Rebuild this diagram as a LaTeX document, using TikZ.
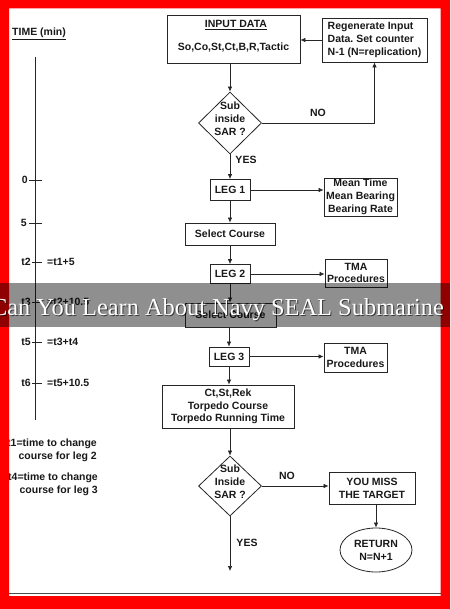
\documentclass[tikz,border=0pt]{standalone}
\usepackage{fontspec}
\setmainfont{Liberation Sans}
\newfontfamily\bannerfont{Liberation Serif}
\usetikzlibrary{shapes.geometric,arrows.meta}
\frenchspacing
\tikzset{
  txt/.style={font=\bfseries\fontsize{10.5}{12.8}\selectfont, inner sep=0pt, text=black!90},
  box/.style={txt, draw=black!85, line width=0.8pt, align=center},
  dia/.style={diamond, draw=black!85, line width=0.8pt, inner sep=0pt},
  arr/.style={draw=black!85, line width=0.7pt, -{Latex[length=5pt,width=4.5pt]}},
  plain/.style={draw=black!85, line width=0.7pt},
}
\begin{document}
\begin{tikzpicture}[x=1pt,y=-1pt]
\useasboundingbox (0,0) rectangle (450,609);
\fill[white] (0,0) rectangle (450,609);

% ---- time axis ----
\node[txt, anchor=west] (timelbl) at (12,34) {\underline{TIME (min)}};
\coordinate (axtop) at (35,57);
\coordinate (axbot) at (35,420);
\draw[plain] (axtop) -- (axbot);
\draw[plain] (29,180) -- (42,180);
\draw[plain] (29,223) -- (42,223);
\draw[plain] (32,262) -- (42,262);
\draw[plain] (32,302) -- (42,302);
\draw[plain] (32,342) -- (42,342);
\draw[plain] (32,383) -- (42,383);
\node[txt, anchor=east] (t0) at (28,180) {0};
\node[txt, anchor=east] (t5m) at (27,223) {5};
\node[txt, anchor=east] (tt2) at (31,262) {t2};
\node[txt, anchor=east] (tt3) at (31,302) {t3};
\node[txt, anchor=east] (tt5) at (31,342) {t5};
\node[txt, anchor=east] (tt6) at (31,383) {t6};
\node[txt, anchor=west] (e2) at (47,262) {=t1+5};
\node[txt, anchor=west] (e3) at (47,302) {=t2+10.5};
\node[txt, anchor=west] (e5) at (47,342) {=t3+t4};
\node[txt, anchor=west] (e6) at (47,383) {=t5+10.5};
\node[txt, anchor=east, align=right] (n1) at (97,450) {t1=time to change\\course for leg 2};
\node[txt, anchor=east, align=right] (n4) at (98,484.5) {t4=time to change\\course for leg 3};

% ---- flow ----
\node[box, minimum width=133pt, minimum height=48pt] (input) at (233.5,39) {};
\node[txt] (inputa) at (236,25) {\underline{INPUT DATA}};
\node[txt] (inputb) at (233.5,48) {So,Co,St,Ct,B,R,Tactic};
\node[box, minimum width=105pt, minimum height=44pt, align=left] (regen) at (374.5,40) {Regenerate Input\\Data. Set counter\\N-1 (N=replication)};
\node[dia, minimum width=63pt, minimum height=62pt] (d1) at (230,123) {};
\node[txt, align=center] (d1t) at (230,119) {Sub\\inside\\SAR ?};
\node[box, minimum width=40pt, minimum height=21pt] (leg1) at (230,190) {LEG 1};
\node[box, minimum width=73pt, minimum height=38pt] (mean) at (360.5,197) {Mean Time\\Mean Bearing\\Bearing Rate};
\node[box, minimum width=90pt, minimum height=22pt] (sel1) at (230,234) {Select Course};
\node[box, minimum width=40pt, minimum height=19pt] (leg2) at (230,274) {LEG 2};
\node[box, minimum width=62pt, minimum height=28pt] (tma1) at (356,273) {TMA\\Procedures};
\node[box, minimum width=91pt, minimum height=24pt] (sel2) at (230.5,315) {Select Course};
\node[box, minimum width=40pt, minimum height=19pt] (leg3) at (229,356.5) {LEG 3};
\node[box, minimum width=63pt, minimum height=29pt] (tma2) at (355.5,357.5) {TMA\\Procedures};
\node[box, minimum width=132pt, minimum height=43pt] (ct) at (228,406.5) {Ct,St,Rek\\Torpedo Course\\Torpedo Running Time};
\node[dia, minimum width=63pt, minimum height=60pt] (d2) at (230,486) {};
\node[txt, align=center] (d2t) at (230,482) {Sub\\Inside\\SAR ?};
\node[box, minimum width=86pt, minimum height=32pt] (miss) at (372,488) {YOU MISS\\THE TARGET};
\node[ellipse, draw=black!85, line width=0.8pt, minimum width=72pt, minimum height=44pt, inner sep=0pt] (ret) at (376,550) {};
\node[txt, align=center] (rett) at (376,550) {RETURN\\N=N+1};
\coordinate (yesend) at (230,571);

\draw[arr] (regen.west) -- (input.east |- regen.west);
\draw[arr] (d1.north |- input.south) -- (d1.north);
\draw[arr] (d1.east) -| (regen.south);
\node[txt] (no1) at (318,113) {NO};
\node[txt] (yes1) at (246,160) {YES};
\draw[arr] (d1.south) -- (leg1.north);
\draw[arr] (leg1.east) -- (mean.west |- leg1.east);
\draw[arr] (leg1.south) -- (sel1.north -| leg1.south);
\draw[arr] (sel1.south) -- (leg2.north);
\draw[arr] (leg2.east) -- (tma1.west |- leg2.east);
\draw[arr] (leg2.south) -- (sel2.north -| leg2.south);
\draw[arr] (sel2.south -| leg3.north) -- (leg3.north);
\draw[arr] (leg3.east) -- (tma2.west |- leg3.east);
\draw[arr] (leg3.south) -- (leg3.south |- ct.north);
\draw[arr] (d2.north |- ct.south) -- (d2.north);
\draw[arr] (d2.east) -- (miss.west |- d2.east);
\node[txt] (no2) at (287,476) {NO};
\draw[arr] (miss.south -| ret.north) -- (ret.north);
\draw[arr] (d2.south) -- (yesend);
\node[txt] (yes2) at (247,543) {YES};

% bottom page line
\draw[black!70, line width=0.8pt] (9,593) -- (441,593);

% red frame
\fill[red, even odd rule] (0,0) rectangle (450,609) (9,8.5) rectangle (440.5,596);

% banner overlay
\fill[black, opacity=0.44] (0,283) rectangle (450,327);
\node[font=\bannerfont\fontsize{24.4}{26}\selectfont, text=black, opacity=0.6, inner sep=0pt, anchor=base] (bannersh) at (218.5,316) {Can You Learn About Navy SEAL Submarine};
\node[font=\bannerfont\fontsize{24.4}{26}\selectfont, text=white, inner sep=0pt, anchor=base] (banner) at (217.5,315) {Can You Learn About Navy SEAL Submarine};
\end{tikzpicture}
\end{document}
